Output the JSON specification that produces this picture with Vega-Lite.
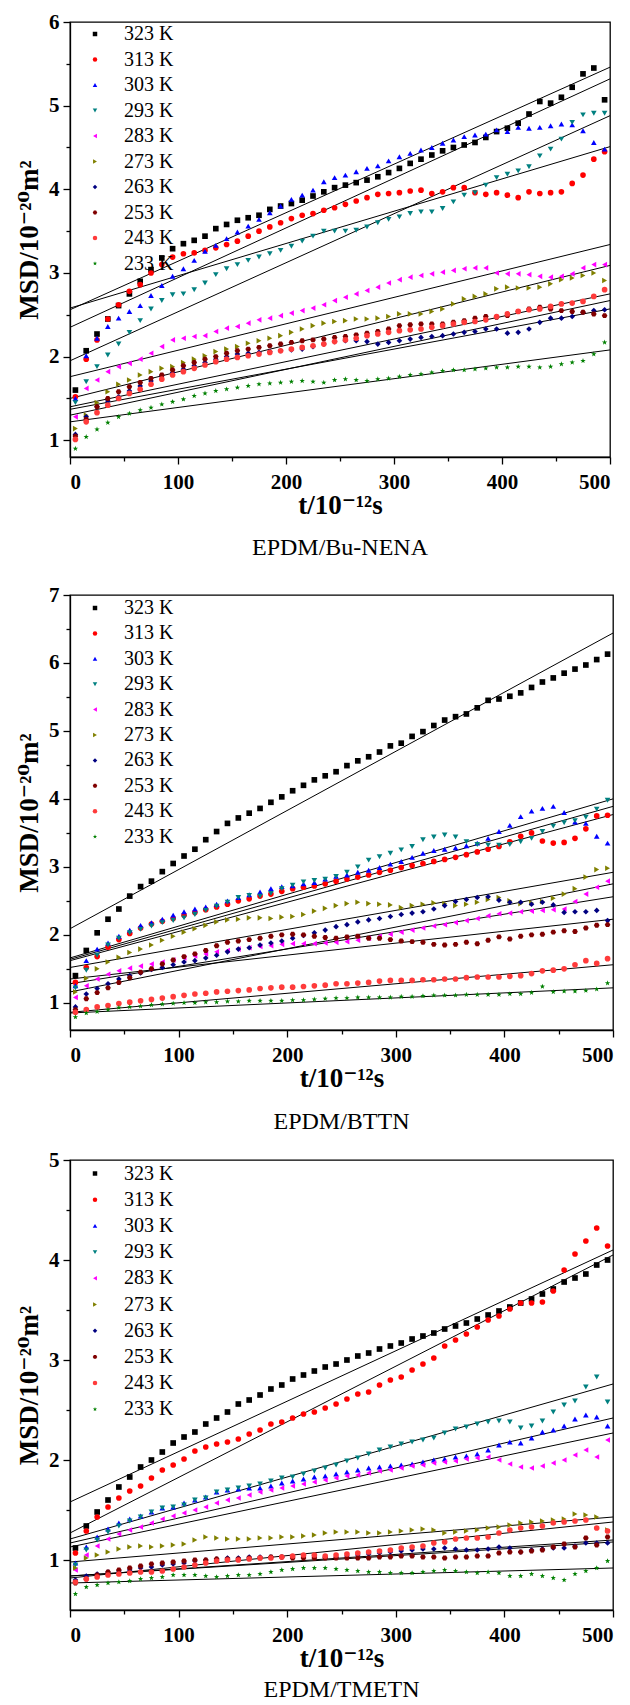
{
"$schema":"https://vega.github.io/schema/vega-lite/v6.json",
"padding":{"left":14,"top":10,"right":5,"bottom":0},
"background":"white",
"config":{
"font":"Liberation Serif",
"view":{"stroke":"black","strokeWidth":1.3},
"axis":{"grid":false,"domainColor":"black","domainWidth":1.3,"tickColor":"black","tickWidth":1.3,"labelColor":"black","titleColor":"black","labelFont":"Liberation Serif","labelFontSize":21,"labelFontWeight":"bold","titleFont":"Liberation Serif, DejaVu Serif","titleFontSize":27,"titleFontWeight":"bold"},
"title":{"font":"Liberation Serif","fontSize":24,"fontWeight":"normal","color":"black"}
},
"datasets":{
"f":[
{"p":1,"k":323,"t":0,"v":2.56},{"p":1,"k":323,"t":500,"v":5.46},
{"p":1,"k":313,"t":0,"v":2.58},{"p":1,"k":313,"t":500,"v":4.51},
{"p":1,"k":303,"t":0,"v":2.35},{"p":1,"k":303,"t":500,"v":5.32},
{"p":1,"k":293,"t":0,"v":1.95},{"p":1,"k":293,"t":500,"v":4.88},
{"p":1,"k":283,"t":0,"v":1.76},{"p":1,"k":283,"t":500,"v":3.34},
{"p":1,"k":273,"t":0,"v":1.5},{"p":1,"k":273,"t":500,"v":3.09},
{"p":1,"k":263,"t":0,"v":1.37},{"p":1,"k":263,"t":500,"v":2.57},
{"p":1,"k":253,"t":0,"v":1.4},{"p":1,"k":253,"t":500,"v":2.75},
{"p":1,"k":243,"t":0,"v":1.3},{"p":1,"k":243,"t":500,"v":2.67},
{"p":1,"k":233,"t":0,"v":1.22},{"p":1,"k":233,"t":500,"v":2.08},
{"p":2,"k":323,"t":0,"v":2.09},{"p":2,"k":323,"t":500,"v":6.44},
{"p":2,"k":313,"t":0,"v":1.62},{"p":2,"k":313,"t":500,"v":3.77},
{"p":2,"k":303,"t":0,"v":1.64},{"p":2,"k":303,"t":500,"v":3.89},
{"p":2,"k":293,"t":0,"v":1.66},{"p":2,"k":293,"t":500,"v":4.0},
{"p":2,"k":283,"t":0,"v":1.28},{"p":2,"k":283,"t":500,"v":2.56},
{"p":2,"k":273,"t":0,"v":1.52},{"p":2,"k":273,"t":500,"v":2.92},
{"p":2,"k":263,"t":0,"v":1.16},{"p":2,"k":263,"t":500,"v":2.75},
{"p":2,"k":253,"t":0,"v":1.35},{"p":2,"k":253,"t":500,"v":2.23},
{"p":2,"k":243,"t":0,"v":0.86},{"p":2,"k":243,"t":500,"v":1.56},
{"p":2,"k":233,"t":0,"v":0.85},{"p":2,"k":233,"t":500,"v":1.22},
{"p":3,"k":323,"t":0,"v":1.58},{"p":3,"k":323,"t":500,"v":4.1},
{"p":3,"k":313,"t":0,"v":1.27},{"p":3,"k":313,"t":500,"v":4.05},
{"p":3,"k":303,"t":0,"v":1.17},{"p":3,"k":303,"t":500,"v":2.42},
{"p":3,"k":293,"t":0,"v":1.21},{"p":3,"k":293,"t":500,"v":2.76},
{"p":3,"k":283,"t":0,"v":1.13},{"p":3,"k":283,"t":500,"v":2.27},
{"p":3,"k":273,"t":0,"v":0.98},{"p":3,"k":273,"t":500,"v":1.43},
{"p":3,"k":263,"t":0,"v":0.84},{"p":3,"k":263,"t":500,"v":1.2},
{"p":3,"k":253,"t":0,"v":0.84},{"p":3,"k":253,"t":500,"v":1.18},
{"p":3,"k":243,"t":0,"v":0.82},{"p":3,"k":243,"t":500,"v":1.38},
{"p":3,"k":233,"t":0,"v":0.77},{"p":3,"k":233,"t":500,"v":0.92}
],
"p1":[
{"k":323,"t":5,"v":1.6},{"k":323,"t":15,"v":2.07},{"k":323,"t":25,"v":2.27},{"k":323,"t":35,"v":2.45},{"k":323,"t":45,"v":2.61},{"k":323,"t":55,"v":2.75},{"k":323,"t":65,"v":2.9},{"k":323,"t":75,"v":3.04},{"k":323,"t":85,"v":3.18},{"k":323,"t":95,"v":3.29},{"k":323,"t":105,"v":3.35},{"k":323,"t":115,"v":3.39},{"k":323,"t":125,"v":3.44},{"k":323,"t":135,"v":3.53},{"k":323,"t":145,"v":3.58},{"k":323,"t":155,"v":3.63},{"k":323,"t":165,"v":3.66},{"k":323,"t":175,"v":3.69},{"k":323,"t":185,"v":3.76},{"k":323,"t":195,"v":3.8},{"k":323,"t":205,"v":3.83},{"k":323,"t":215,"v":3.87},{"k":323,"t":225,"v":3.92},{"k":323,"t":235,"v":3.97},{"k":323,"t":245,"v":4.02},{"k":323,"t":255,"v":4.05},{"k":323,"t":265,"v":4.08},{"k":323,"t":275,"v":4.11},{"k":323,"t":285,"v":4.15},{"k":323,"t":295,"v":4.2},{"k":323,"t":305,"v":4.25},{"k":323,"t":315,"v":4.31},{"k":323,"t":325,"v":4.36},{"k":323,"t":335,"v":4.41},{"k":323,"t":345,"v":4.46},{"k":323,"t":355,"v":4.5},{"k":323,"t":365,"v":4.53},{"k":323,"t":375,"v":4.56},{"k":323,"t":385,"v":4.62},{"k":323,"t":395,"v":4.69},{"k":323,"t":405,"v":4.73},{"k":323,"t":415,"v":4.79},{"k":323,"t":425,"v":4.9},{"k":323,"t":435,"v":5.05},{"k":323,"t":445,"v":5.03},{"k":323,"t":455,"v":5.1},{"k":323,"t":465,"v":5.22},{"k":323,"t":475,"v":5.38},{"k":323,"t":485,"v":5.45},{"k":323,"t":495,"v":5.07},
{"k":313,"t":5,"v":1.52},{"k":313,"t":15,"v":1.97},{"k":313,"t":25,"v":2.2},{"k":313,"t":35,"v":2.45},{"k":313,"t":45,"v":2.62},{"k":313,"t":55,"v":2.78},{"k":313,"t":65,"v":2.86},{"k":313,"t":75,"v":3.0},{"k":313,"t":85,"v":3.1},{"k":313,"t":95,"v":3.19},{"k":313,"t":105,"v":3.23},{"k":313,"t":115,"v":3.24},{"k":313,"t":125,"v":3.27},{"k":313,"t":135,"v":3.3},{"k":313,"t":145,"v":3.34},{"k":313,"t":155,"v":3.38},{"k":313,"t":165,"v":3.44},{"k":313,"t":175,"v":3.5},{"k":313,"t":185,"v":3.55},{"k":313,"t":195,"v":3.6},{"k":313,"t":205,"v":3.65},{"k":313,"t":215,"v":3.69},{"k":313,"t":225,"v":3.71},{"k":313,"t":235,"v":3.75},{"k":313,"t":245,"v":3.78},{"k":313,"t":255,"v":3.82},{"k":313,"t":265,"v":3.86},{"k":313,"t":275,"v":3.9},{"k":313,"t":285,"v":3.94},{"k":313,"t":295,"v":3.95},{"k":313,"t":305,"v":3.96},{"k":313,"t":315,"v":3.98},{"k":313,"t":325,"v":3.99},{"k":313,"t":335,"v":3.95},{"k":313,"t":345,"v":3.97},{"k":313,"t":355,"v":4.02},{"k":313,"t":365,"v":4.02},{"k":313,"t":375,"v":3.96},{"k":313,"t":385,"v":3.94},{"k":313,"t":395,"v":3.96},{"k":313,"t":405,"v":3.93},{"k":313,"t":415,"v":3.9},{"k":313,"t":425,"v":3.97},{"k":313,"t":435,"v":3.95},{"k":313,"t":445,"v":3.96},{"k":313,"t":455,"v":3.97},{"k":313,"t":465,"v":4.07},{"k":313,"t":475,"v":4.17},{"k":313,"t":485,"v":4.36},{"k":313,"t":495,"v":4.45},
{"k":303,"t":5,"v":1.5},{"k":303,"t":15,"v":2.01},{"k":303,"t":25,"v":2.22},{"k":303,"t":35,"v":2.36},{"k":303,"t":45,"v":2.46},{"k":303,"t":55,"v":2.54},{"k":303,"t":65,"v":2.61},{"k":303,"t":75,"v":2.73},{"k":303,"t":85,"v":2.85},{"k":303,"t":95,"v":2.96},{"k":303,"t":105,"v":3.05},{"k":303,"t":115,"v":3.15},{"k":303,"t":125,"v":3.26},{"k":303,"t":135,"v":3.33},{"k":303,"t":145,"v":3.41},{"k":303,"t":155,"v":3.49},{"k":303,"t":165,"v":3.56},{"k":303,"t":175,"v":3.64},{"k":303,"t":185,"v":3.72},{"k":303,"t":195,"v":3.8},{"k":303,"t":205,"v":3.88},{"k":303,"t":215,"v":3.93},{"k":303,"t":225,"v":3.99},{"k":303,"t":235,"v":4.09},{"k":303,"t":245,"v":4.14},{"k":303,"t":255,"v":4.17},{"k":303,"t":265,"v":4.21},{"k":303,"t":275,"v":4.25},{"k":303,"t":285,"v":4.28},{"k":303,"t":295,"v":4.34},{"k":303,"t":305,"v":4.39},{"k":303,"t":315,"v":4.43},{"k":303,"t":325,"v":4.47},{"k":303,"t":335,"v":4.5},{"k":303,"t":345,"v":4.55},{"k":303,"t":355,"v":4.59},{"k":303,"t":365,"v":4.63},{"k":303,"t":375,"v":4.65},{"k":303,"t":385,"v":4.66},{"k":303,"t":395,"v":4.71},{"k":303,"t":405,"v":4.69},{"k":303,"t":415,"v":4.74},{"k":303,"t":425,"v":4.73},{"k":303,"t":435,"v":4.74},{"k":303,"t":445,"v":4.76},{"k":303,"t":455,"v":4.78},{"k":303,"t":465,"v":4.77},{"k":303,"t":475,"v":4.7},{"k":303,"t":485,"v":4.56},{"k":303,"t":495,"v":4.48},
{"k":293,"t":5,"v":1.45},{"k":293,"t":15,"v":1.7},{"k":293,"t":25,"v":1.88},{"k":293,"t":35,"v":2.02},{"k":293,"t":45,"v":2.15},{"k":293,"t":55,"v":2.29},{"k":293,"t":65,"v":2.43},{"k":293,"t":75,"v":2.57},{"k":293,"t":85,"v":2.67},{"k":293,"t":95,"v":2.74},{"k":293,"t":105,"v":2.75},{"k":293,"t":115,"v":2.8},{"k":293,"t":125,"v":2.88},{"k":293,"t":135,"v":2.98},{"k":293,"t":145,"v":3.05},{"k":293,"t":155,"v":3.1},{"k":293,"t":165,"v":3.15},{"k":293,"t":175,"v":3.19},{"k":293,"t":185,"v":3.23},{"k":293,"t":195,"v":3.27},{"k":293,"t":205,"v":3.32},{"k":293,"t":215,"v":3.38},{"k":293,"t":225,"v":3.44},{"k":293,"t":235,"v":3.5},{"k":293,"t":245,"v":3.5},{"k":293,"t":255,"v":3.5},{"k":293,"t":265,"v":3.51},{"k":293,"t":275,"v":3.55},{"k":293,"t":285,"v":3.6},{"k":293,"t":295,"v":3.64},{"k":293,"t":305,"v":3.67},{"k":293,"t":315,"v":3.71},{"k":293,"t":325,"v":3.73},{"k":293,"t":335,"v":3.73},{"k":293,"t":345,"v":3.77},{"k":293,"t":355,"v":3.85},{"k":293,"t":365,"v":3.93},{"k":293,"t":375,"v":3.96},{"k":293,"t":385,"v":4.05},{"k":293,"t":395,"v":4.14},{"k":293,"t":405,"v":4.18},{"k":293,"t":415,"v":4.22},{"k":293,"t":425,"v":4.27},{"k":293,"t":435,"v":4.4},{"k":293,"t":445,"v":4.48},{"k":293,"t":455,"v":4.6},{"k":293,"t":465,"v":4.8},{"k":293,"t":475,"v":4.89},{"k":293,"t":485,"v":4.91},{"k":293,"t":495,"v":4.91},
{"k":283,"t":5,"v":1.28},{"k":283,"t":15,"v":1.62},{"k":283,"t":25,"v":1.72},{"k":283,"t":35,"v":1.82},{"k":283,"t":45,"v":1.88},{"k":283,"t":55,"v":1.92},{"k":283,"t":65,"v":1.97},{"k":283,"t":75,"v":2.04},{"k":283,"t":85,"v":2.12},{"k":283,"t":95,"v":2.2},{"k":283,"t":105,"v":2.22},{"k":283,"t":115,"v":2.24},{"k":283,"t":125,"v":2.25},{"k":283,"t":135,"v":2.3},{"k":283,"t":145,"v":2.34},{"k":283,"t":155,"v":2.36},{"k":283,"t":165,"v":2.4},{"k":283,"t":175,"v":2.44},{"k":283,"t":185,"v":2.46},{"k":283,"t":195,"v":2.49},{"k":283,"t":205,"v":2.52},{"k":283,"t":215,"v":2.55},{"k":283,"t":225,"v":2.58},{"k":283,"t":235,"v":2.62},{"k":283,"t":245,"v":2.67},{"k":283,"t":255,"v":2.71},{"k":283,"t":265,"v":2.75},{"k":283,"t":275,"v":2.79},{"k":283,"t":285,"v":2.83},{"k":283,"t":295,"v":2.88},{"k":283,"t":305,"v":2.92},{"k":283,"t":315,"v":2.95},{"k":283,"t":325,"v":2.97},{"k":283,"t":335,"v":2.99},{"k":283,"t":345,"v":3.01},{"k":283,"t":355,"v":3.03},{"k":283,"t":365,"v":3.05},{"k":283,"t":375,"v":3.06},{"k":283,"t":385,"v":3.06},{"k":283,"t":395,"v":3.0},{"k":283,"t":405,"v":2.99},{"k":283,"t":415,"v":2.99},{"k":283,"t":425,"v":2.98},{"k":283,"t":435,"v":2.96},{"k":283,"t":445,"v":2.95},{"k":283,"t":455,"v":2.96},{"k":283,"t":465,"v":2.99},{"k":283,"t":475,"v":3.06},{"k":283,"t":485,"v":3.1},{"k":283,"t":495,"v":3.1},
{"k":273,"t":5,"v":1.14},{"k":273,"t":15,"v":1.3},{"k":273,"t":25,"v":1.45},{"k":273,"t":35,"v":1.58},{"k":273,"t":45,"v":1.67},{"k":273,"t":55,"v":1.72},{"k":273,"t":65,"v":1.78},{"k":273,"t":75,"v":1.82},{"k":273,"t":85,"v":1.86},{"k":273,"t":95,"v":1.88},{"k":273,"t":105,"v":1.93},{"k":273,"t":115,"v":1.97},{"k":273,"t":125,"v":2.01},{"k":273,"t":135,"v":2.06},{"k":273,"t":145,"v":2.09},{"k":273,"t":155,"v":2.12},{"k":273,"t":165,"v":2.16},{"k":273,"t":175,"v":2.19},{"k":273,"t":185,"v":2.22},{"k":273,"t":195,"v":2.25},{"k":273,"t":205,"v":2.29},{"k":273,"t":215,"v":2.33},{"k":273,"t":225,"v":2.37},{"k":273,"t":235,"v":2.4},{"k":273,"t":245,"v":2.42},{"k":273,"t":255,"v":2.43},{"k":273,"t":265,"v":2.45},{"k":273,"t":275,"v":2.45},{"k":273,"t":285,"v":2.46},{"k":273,"t":295,"v":2.48},{"k":273,"t":305,"v":2.51},{"k":273,"t":315,"v":2.51},{"k":273,"t":325,"v":2.51},{"k":273,"t":335,"v":2.54},{"k":273,"t":345,"v":2.57},{"k":273,"t":355,"v":2.63},{"k":273,"t":365,"v":2.69},{"k":273,"t":375,"v":2.72},{"k":273,"t":385,"v":2.75},{"k":273,"t":395,"v":2.81},{"k":273,"t":405,"v":2.83},{"k":273,"t":415,"v":2.82},{"k":273,"t":425,"v":2.82},{"k":273,"t":435,"v":2.83},{"k":273,"t":445,"v":2.87},{"k":273,"t":455,"v":2.92},{"k":273,"t":465,"v":2.94},{"k":273,"t":475,"v":2.97},{"k":273,"t":485,"v":3.0},{"k":273,"t":495,"v":2.91},
{"k":263,"t":5,"v":1.07},{"k":263,"t":15,"v":1.28},{"k":263,"t":25,"v":1.4},{"k":263,"t":35,"v":1.47},{"k":263,"t":45,"v":1.52},{"k":263,"t":55,"v":1.59},{"k":263,"t":65,"v":1.65},{"k":263,"t":75,"v":1.71},{"k":263,"t":85,"v":1.77},{"k":263,"t":95,"v":1.81},{"k":263,"t":105,"v":1.85},{"k":263,"t":115,"v":1.89},{"k":263,"t":125,"v":1.93},{"k":263,"t":135,"v":1.97},{"k":263,"t":145,"v":2.0},{"k":263,"t":155,"v":2.03},{"k":263,"t":165,"v":2.04},{"k":263,"t":175,"v":2.05},{"k":263,"t":185,"v":2.06},{"k":263,"t":195,"v":2.07},{"k":263,"t":205,"v":2.08},{"k":263,"t":215,"v":2.09},{"k":263,"t":225,"v":2.12},{"k":263,"t":235,"v":2.15},{"k":263,"t":245,"v":2.18},{"k":263,"t":255,"v":2.19},{"k":263,"t":265,"v":2.19},{"k":263,"t":275,"v":2.18},{"k":263,"t":285,"v":2.15},{"k":263,"t":295,"v":2.17},{"k":263,"t":305,"v":2.19},{"k":263,"t":315,"v":2.21},{"k":263,"t":325,"v":2.23},{"k":263,"t":335,"v":2.24},{"k":263,"t":345,"v":2.25},{"k":263,"t":355,"v":2.27},{"k":263,"t":365,"v":2.29},{"k":263,"t":375,"v":2.3},{"k":263,"t":385,"v":2.33},{"k":263,"t":395,"v":2.33},{"k":263,"t":405,"v":2.28},{"k":263,"t":415,"v":2.29},{"k":263,"t":425,"v":2.33},{"k":263,"t":435,"v":2.41},{"k":263,"t":445,"v":2.46},{"k":263,"t":455,"v":2.46},{"k":263,"t":465,"v":2.48},{"k":263,"t":475,"v":2.53},{"k":263,"t":485,"v":2.55},{"k":263,"t":495,"v":2.56},
{"k":253,"t":5,"v":1.05},{"k":253,"t":15,"v":1.25},{"k":253,"t":25,"v":1.4},{"k":253,"t":35,"v":1.5},{"k":253,"t":45,"v":1.58},{"k":253,"t":55,"v":1.64},{"k":253,"t":65,"v":1.69},{"k":253,"t":75,"v":1.74},{"k":253,"t":85,"v":1.78},{"k":253,"t":95,"v":1.84},{"k":253,"t":105,"v":1.89},{"k":253,"t":115,"v":1.93},{"k":253,"t":125,"v":1.97},{"k":253,"t":135,"v":2.0},{"k":253,"t":145,"v":2.04},{"k":253,"t":155,"v":2.07},{"k":253,"t":165,"v":2.09},{"k":253,"t":175,"v":2.11},{"k":253,"t":185,"v":2.13},{"k":253,"t":195,"v":2.15},{"k":253,"t":205,"v":2.17},{"k":253,"t":215,"v":2.19},{"k":253,"t":225,"v":2.2},{"k":253,"t":235,"v":2.21},{"k":253,"t":245,"v":2.23},{"k":253,"t":255,"v":2.24},{"k":253,"t":265,"v":2.26},{"k":253,"t":275,"v":2.28},{"k":253,"t":285,"v":2.3},{"k":253,"t":295,"v":2.33},{"k":253,"t":305,"v":2.37},{"k":253,"t":315,"v":2.38},{"k":253,"t":325,"v":2.39},{"k":253,"t":335,"v":2.39},{"k":253,"t":345,"v":2.39},{"k":253,"t":355,"v":2.41},{"k":253,"t":365,"v":2.43},{"k":253,"t":375,"v":2.46},{"k":253,"t":385,"v":2.48},{"k":253,"t":395,"v":2.47},{"k":253,"t":405,"v":2.49},{"k":253,"t":415,"v":2.54},{"k":253,"t":425,"v":2.57},{"k":253,"t":435,"v":2.59},{"k":253,"t":445,"v":2.57},{"k":253,"t":455,"v":2.55},{"k":253,"t":465,"v":2.54},{"k":253,"t":475,"v":2.53},{"k":253,"t":485,"v":2.51},{"k":253,"t":495,"v":2.49},
{"k":243,"t":5,"v":1.01},{"k":243,"t":15,"v":1.22},{"k":243,"t":25,"v":1.33},{"k":243,"t":35,"v":1.42},{"k":243,"t":45,"v":1.5},{"k":243,"t":55,"v":1.56},{"k":243,"t":65,"v":1.61},{"k":243,"t":75,"v":1.67},{"k":243,"t":85,"v":1.73},{"k":243,"t":95,"v":1.78},{"k":243,"t":105,"v":1.82},{"k":243,"t":115,"v":1.86},{"k":243,"t":125,"v":1.9},{"k":243,"t":135,"v":1.94},{"k":243,"t":145,"v":1.97},{"k":243,"t":155,"v":1.99},{"k":243,"t":165,"v":2.01},{"k":243,"t":175,"v":2.03},{"k":243,"t":185,"v":2.05},{"k":243,"t":195,"v":2.07},{"k":243,"t":205,"v":2.09},{"k":243,"t":215,"v":2.11},{"k":243,"t":225,"v":2.13},{"k":243,"t":235,"v":2.15},{"k":243,"t":245,"v":2.18},{"k":243,"t":255,"v":2.2},{"k":243,"t":265,"v":2.22},{"k":243,"t":275,"v":2.25},{"k":243,"t":285,"v":2.27},{"k":243,"t":295,"v":2.29},{"k":243,"t":305,"v":2.31},{"k":243,"t":315,"v":2.32},{"k":243,"t":325,"v":2.33},{"k":243,"t":335,"v":2.35},{"k":243,"t":345,"v":2.37},{"k":243,"t":355,"v":2.39},{"k":243,"t":365,"v":2.41},{"k":243,"t":375,"v":2.42},{"k":243,"t":385,"v":2.44},{"k":243,"t":395,"v":2.48},{"k":243,"t":405,"v":2.51},{"k":243,"t":415,"v":2.54},{"k":243,"t":425,"v":2.56},{"k":243,"t":435,"v":2.57},{"k":243,"t":445,"v":2.6},{"k":243,"t":455,"v":2.63},{"k":243,"t":465,"v":2.64},{"k":243,"t":475,"v":2.66},{"k":243,"t":485,"v":2.72},{"k":243,"t":495,"v":2.8},
{"k":233,"t":5,"v":0.9},{"k":233,"t":15,"v":1.04},{"k":233,"t":25,"v":1.13},{"k":233,"t":35,"v":1.21},{"k":233,"t":45,"v":1.28},{"k":233,"t":55,"v":1.32},{"k":233,"t":65,"v":1.36},{"k":233,"t":75,"v":1.39},{"k":233,"t":85,"v":1.43},{"k":233,"t":95,"v":1.46},{"k":233,"t":105,"v":1.49},{"k":233,"t":115,"v":1.53},{"k":233,"t":125,"v":1.56},{"k":233,"t":135,"v":1.59},{"k":233,"t":145,"v":1.61},{"k":233,"t":155,"v":1.63},{"k":233,"t":165,"v":1.65},{"k":233,"t":175,"v":1.67},{"k":233,"t":185,"v":1.68},{"k":233,"t":195,"v":1.69},{"k":233,"t":205,"v":1.7},{"k":233,"t":215,"v":1.71},{"k":233,"t":225,"v":1.7},{"k":233,"t":235,"v":1.69},{"k":233,"t":245,"v":1.72},{"k":233,"t":255,"v":1.73},{"k":233,"t":265,"v":1.72},{"k":233,"t":275,"v":1.71},{"k":233,"t":285,"v":1.73},{"k":233,"t":295,"v":1.74},{"k":233,"t":305,"v":1.76},{"k":233,"t":315,"v":1.78},{"k":233,"t":325,"v":1.79},{"k":233,"t":335,"v":1.81},{"k":233,"t":345,"v":1.83},{"k":233,"t":355,"v":1.84},{"k":233,"t":365,"v":1.84},{"k":233,"t":375,"v":1.85},{"k":233,"t":385,"v":1.86},{"k":233,"t":395,"v":1.87},{"k":233,"t":405,"v":1.87},{"k":233,"t":415,"v":1.88},{"k":233,"t":425,"v":1.88},{"k":233,"t":435,"v":1.87},{"k":233,"t":445,"v":1.88},{"k":233,"t":455,"v":1.91},{"k":233,"t":465,"v":1.93},{"k":233,"t":475,"v":1.95},{"k":233,"t":485,"v":2.03},{"k":233,"t":495,"v":2.17}
],
"p2":[
{"k":323,"t":5,"v":1.4},{"k":323,"t":15,"v":1.77},{"k":323,"t":25,"v":2.03},{"k":323,"t":35,"v":2.23},{"k":323,"t":45,"v":2.38},{"k":323,"t":55,"v":2.57},{"k":323,"t":65,"v":2.71},{"k":323,"t":75,"v":2.79},{"k":323,"t":85,"v":2.93},{"k":323,"t":95,"v":3.05},{"k":323,"t":105,"v":3.16},{"k":323,"t":115,"v":3.26},{"k":323,"t":125,"v":3.4},{"k":323,"t":135,"v":3.52},{"k":323,"t":145,"v":3.64},{"k":323,"t":155,"v":3.72},{"k":323,"t":165,"v":3.79},{"k":323,"t":175,"v":3.86},{"k":323,"t":185,"v":3.95},{"k":323,"t":195,"v":4.03},{"k":323,"t":205,"v":4.12},{"k":323,"t":215,"v":4.2},{"k":323,"t":225,"v":4.28},{"k":323,"t":235,"v":4.34},{"k":323,"t":245,"v":4.4},{"k":323,"t":255,"v":4.49},{"k":323,"t":265,"v":4.56},{"k":323,"t":275,"v":4.62},{"k":323,"t":285,"v":4.69},{"k":323,"t":295,"v":4.78},{"k":323,"t":305,"v":4.82},{"k":323,"t":315,"v":4.92},{"k":323,"t":325,"v":4.99},{"k":323,"t":335,"v":5.08},{"k":323,"t":345,"v":5.16},{"k":323,"t":355,"v":5.21},{"k":323,"t":365,"v":5.25},{"k":323,"t":375,"v":5.34},{"k":323,"t":385,"v":5.45},{"k":323,"t":395,"v":5.47},{"k":323,"t":405,"v":5.51},{"k":323,"t":415,"v":5.56},{"k":323,"t":425,"v":5.64},{"k":323,"t":435,"v":5.72},{"k":323,"t":445,"v":5.78},{"k":323,"t":455,"v":5.85},{"k":323,"t":465,"v":5.91},{"k":323,"t":475,"v":5.97},{"k":323,"t":485,"v":6.05},{"k":323,"t":495,"v":6.13},
{"k":313,"t":5,"v":1.3},{"k":313,"t":15,"v":1.52},{"k":313,"t":25,"v":1.68},{"k":313,"t":35,"v":1.82},{"k":313,"t":45,"v":1.93},{"k":313,"t":55,"v":2.02},{"k":313,"t":65,"v":2.1},{"k":313,"t":75,"v":2.16},{"k":313,"t":85,"v":2.2},{"k":313,"t":95,"v":2.24},{"k":313,"t":105,"v":2.29},{"k":313,"t":115,"v":2.33},{"k":313,"t":125,"v":2.37},{"k":313,"t":135,"v":2.41},{"k":313,"t":145,"v":2.45},{"k":313,"t":155,"v":2.5},{"k":313,"t":165,"v":2.53},{"k":313,"t":175,"v":2.57},{"k":313,"t":185,"v":2.6},{"k":313,"t":195,"v":2.64},{"k":313,"t":205,"v":2.68},{"k":313,"t":215,"v":2.7},{"k":313,"t":225,"v":2.72},{"k":313,"t":235,"v":2.75},{"k":313,"t":245,"v":2.79},{"k":313,"t":255,"v":2.82},{"k":313,"t":265,"v":2.85},{"k":313,"t":275,"v":2.88},{"k":313,"t":285,"v":2.92},{"k":313,"t":295,"v":2.95},{"k":313,"t":305,"v":2.99},{"k":313,"t":315,"v":3.02},{"k":313,"t":325,"v":3.05},{"k":313,"t":335,"v":3.08},{"k":313,"t":345,"v":3.11},{"k":313,"t":355,"v":3.14},{"k":313,"t":365,"v":3.18},{"k":313,"t":375,"v":3.22},{"k":313,"t":385,"v":3.26},{"k":313,"t":395,"v":3.3},{"k":313,"t":405,"v":3.37},{"k":313,"t":415,"v":3.45},{"k":313,"t":425,"v":3.5},{"k":313,"t":435,"v":3.38},{"k":313,"t":445,"v":3.35},{"k":313,"t":455,"v":3.36},{"k":313,"t":465,"v":3.42},{"k":313,"t":475,"v":3.56},{"k":313,"t":485,"v":3.75},{"k":313,"t":495,"v":3.76},
{"k":303,"t":5,"v":1.25},{"k":303,"t":15,"v":1.62},{"k":303,"t":25,"v":1.79},{"k":303,"t":35,"v":1.88},{"k":303,"t":45,"v":1.98},{"k":303,"t":55,"v":2.07},{"k":303,"t":65,"v":2.14},{"k":303,"t":75,"v":2.18},{"k":303,"t":85,"v":2.23},{"k":303,"t":95,"v":2.29},{"k":303,"t":105,"v":2.34},{"k":303,"t":115,"v":2.38},{"k":303,"t":125,"v":2.41},{"k":303,"t":135,"v":2.45},{"k":303,"t":145,"v":2.5},{"k":303,"t":155,"v":2.55},{"k":303,"t":165,"v":2.59},{"k":303,"t":175,"v":2.63},{"k":303,"t":185,"v":2.68},{"k":303,"t":195,"v":2.71},{"k":303,"t":205,"v":2.72},{"k":303,"t":215,"v":2.75},{"k":303,"t":225,"v":2.77},{"k":303,"t":235,"v":2.82},{"k":303,"t":245,"v":2.86},{"k":303,"t":255,"v":2.88},{"k":303,"t":265,"v":2.92},{"k":303,"t":275,"v":2.95},{"k":303,"t":285,"v":2.99},{"k":303,"t":295,"v":3.04},{"k":303,"t":305,"v":3.08},{"k":303,"t":315,"v":3.14},{"k":303,"t":325,"v":3.2},{"k":303,"t":335,"v":3.24},{"k":303,"t":345,"v":3.26},{"k":303,"t":355,"v":3.28},{"k":303,"t":365,"v":3.31},{"k":303,"t":375,"v":3.35},{"k":303,"t":385,"v":3.42},{"k":303,"t":395,"v":3.52},{"k":303,"t":405,"v":3.61},{"k":303,"t":415,"v":3.74},{"k":303,"t":425,"v":3.82},{"k":303,"t":435,"v":3.86},{"k":303,"t":445,"v":3.89},{"k":303,"t":455,"v":3.8},{"k":303,"t":465,"v":3.66},{"k":303,"t":475,"v":3.64},{"k":303,"t":485,"v":3.45},{"k":303,"t":495,"v":3.35},
{"k":293,"t":5,"v":1.22},{"k":293,"t":15,"v":1.48},{"k":293,"t":25,"v":1.7},{"k":293,"t":35,"v":1.85},{"k":293,"t":45,"v":1.95},{"k":293,"t":55,"v":2.03},{"k":293,"t":65,"v":2.08},{"k":293,"t":75,"v":2.13},{"k":293,"t":85,"v":2.18},{"k":293,"t":95,"v":2.21},{"k":293,"t":105,"v":2.25},{"k":293,"t":115,"v":2.3},{"k":293,"t":125,"v":2.36},{"k":293,"t":135,"v":2.42},{"k":293,"t":145,"v":2.48},{"k":293,"t":155,"v":2.55},{"k":293,"t":165,"v":2.58},{"k":293,"t":175,"v":2.57},{"k":293,"t":185,"v":2.61},{"k":293,"t":195,"v":2.68},{"k":293,"t":205,"v":2.73},{"k":293,"t":215,"v":2.78},{"k":293,"t":225,"v":2.8},{"k":293,"t":235,"v":2.82},{"k":293,"t":245,"v":2.86},{"k":293,"t":255,"v":2.92},{"k":293,"t":265,"v":3.0},{"k":293,"t":275,"v":3.1},{"k":293,"t":285,"v":3.15},{"k":293,"t":295,"v":3.2},{"k":293,"t":305,"v":3.25},{"k":293,"t":315,"v":3.3},{"k":293,"t":325,"v":3.4},{"k":293,"t":335,"v":3.44},{"k":293,"t":345,"v":3.47},{"k":293,"t":355,"v":3.44},{"k":293,"t":365,"v":3.37},{"k":293,"t":375,"v":3.33},{"k":293,"t":385,"v":3.32},{"k":293,"t":395,"v":3.32},{"k":293,"t":405,"v":3.33},{"k":293,"t":415,"v":3.37},{"k":293,"t":425,"v":3.42},{"k":293,"t":435,"v":3.52},{"k":293,"t":445,"v":3.6},{"k":293,"t":455,"v":3.65},{"k":293,"t":465,"v":3.68},{"k":293,"t":475,"v":3.73},{"k":293,"t":485,"v":3.85},{"k":293,"t":495,"v":3.98},
{"k":283,"t":5,"v":1.08},{"k":283,"t":15,"v":1.25},{"k":283,"t":25,"v":1.35},{"k":283,"t":35,"v":1.42},{"k":283,"t":45,"v":1.47},{"k":283,"t":55,"v":1.51},{"k":283,"t":65,"v":1.54},{"k":283,"t":75,"v":1.57},{"k":283,"t":85,"v":1.6},{"k":283,"t":95,"v":1.63},{"k":283,"t":105,"v":1.66},{"k":283,"t":115,"v":1.69},{"k":283,"t":125,"v":1.72},{"k":283,"t":135,"v":1.75},{"k":283,"t":145,"v":1.77},{"k":283,"t":155,"v":1.79},{"k":283,"t":165,"v":1.81},{"k":283,"t":175,"v":1.83},{"k":283,"t":185,"v":1.84},{"k":283,"t":195,"v":1.86},{"k":283,"t":205,"v":1.87},{"k":283,"t":215,"v":1.87},{"k":283,"t":225,"v":1.87},{"k":283,"t":235,"v":1.88},{"k":283,"t":245,"v":1.89},{"k":283,"t":255,"v":1.9},{"k":283,"t":265,"v":1.92},{"k":283,"t":275,"v":1.95},{"k":283,"t":285,"v":1.98},{"k":283,"t":295,"v":2.01},{"k":283,"t":305,"v":2.04},{"k":283,"t":315,"v":2.07},{"k":283,"t":325,"v":2.1},{"k":283,"t":335,"v":2.13},{"k":283,"t":345,"v":2.15},{"k":283,"t":355,"v":2.18},{"k":283,"t":365,"v":2.21},{"k":283,"t":375,"v":2.24},{"k":283,"t":385,"v":2.28},{"k":283,"t":395,"v":2.31},{"k":283,"t":405,"v":2.32},{"k":283,"t":415,"v":2.34},{"k":283,"t":425,"v":2.35},{"k":283,"t":435,"v":2.36},{"k":283,"t":445,"v":2.37},{"k":283,"t":455,"v":2.38},{"k":283,"t":465,"v":2.49},{"k":283,"t":475,"v":2.6},{"k":283,"t":485,"v":2.7},{"k":283,"t":495,"v":2.79},
{"k":273,"t":5,"v":1.16},{"k":273,"t":15,"v":1.36},{"k":273,"t":25,"v":1.5},{"k":273,"t":35,"v":1.6},{"k":273,"t":45,"v":1.67},{"k":273,"t":55,"v":1.74},{"k":273,"t":65,"v":1.79},{"k":273,"t":75,"v":1.85},{"k":273,"t":85,"v":1.92},{"k":273,"t":95,"v":1.98},{"k":273,"t":105,"v":2.04},{"k":273,"t":115,"v":2.09},{"k":273,"t":125,"v":2.14},{"k":273,"t":135,"v":2.19},{"k":273,"t":145,"v":2.22},{"k":273,"t":155,"v":2.23},{"k":273,"t":165,"v":2.25},{"k":273,"t":175,"v":2.25},{"k":273,"t":185,"v":2.24},{"k":273,"t":195,"v":2.26},{"k":273,"t":205,"v":2.27},{"k":273,"t":215,"v":2.3},{"k":273,"t":225,"v":2.35},{"k":273,"t":235,"v":2.39},{"k":273,"t":245,"v":2.43},{"k":273,"t":255,"v":2.46},{"k":273,"t":265,"v":2.48},{"k":273,"t":275,"v":2.46},{"k":273,"t":285,"v":2.45},{"k":273,"t":295,"v":2.44},{"k":273,"t":305,"v":2.4},{"k":273,"t":315,"v":2.43},{"k":273,"t":325,"v":2.45},{"k":273,"t":335,"v":2.47},{"k":273,"t":345,"v":2.46},{"k":273,"t":355,"v":2.43},{"k":273,"t":365,"v":2.45},{"k":273,"t":375,"v":2.48},{"k":273,"t":385,"v":2.52},{"k":273,"t":395,"v":2.55},{"k":273,"t":405,"v":2.5},{"k":273,"t":415,"v":2.46},{"k":273,"t":425,"v":2.47},{"k":273,"t":435,"v":2.49},{"k":273,"t":445,"v":2.54},{"k":273,"t":455,"v":2.6},{"k":273,"t":465,"v":2.68},{"k":273,"t":475,"v":2.85},{"k":273,"t":485,"v":2.96},{"k":273,"t":495,"v":2.98},
{"k":263,"t":5,"v":0.94},{"k":263,"t":15,"v":1.13},{"k":263,"t":25,"v":1.21},{"k":263,"t":35,"v":1.28},{"k":263,"t":45,"v":1.35},{"k":263,"t":55,"v":1.4},{"k":263,"t":65,"v":1.44},{"k":263,"t":75,"v":1.49},{"k":263,"t":85,"v":1.52},{"k":263,"t":95,"v":1.56},{"k":263,"t":105,"v":1.6},{"k":263,"t":115,"v":1.62},{"k":263,"t":125,"v":1.66},{"k":263,"t":135,"v":1.7},{"k":263,"t":145,"v":1.75},{"k":263,"t":155,"v":1.79},{"k":263,"t":165,"v":1.81},{"k":263,"t":175,"v":1.85},{"k":263,"t":185,"v":1.88},{"k":263,"t":195,"v":1.91},{"k":263,"t":205,"v":1.95},{"k":263,"t":215,"v":1.99},{"k":263,"t":225,"v":2.03},{"k":263,"t":235,"v":2.07},{"k":263,"t":245,"v":2.12},{"k":263,"t":255,"v":2.15},{"k":263,"t":265,"v":2.19},{"k":263,"t":275,"v":2.22},{"k":263,"t":285,"v":2.24},{"k":263,"t":295,"v":2.27},{"k":263,"t":305,"v":2.3},{"k":263,"t":315,"v":2.32},{"k":263,"t":325,"v":2.34},{"k":263,"t":335,"v":2.38},{"k":263,"t":345,"v":2.43},{"k":263,"t":355,"v":2.49},{"k":263,"t":365,"v":2.52},{"k":263,"t":375,"v":2.55},{"k":263,"t":385,"v":2.56},{"k":263,"t":395,"v":2.51},{"k":263,"t":405,"v":2.48},{"k":263,"t":415,"v":2.48},{"k":263,"t":425,"v":2.45},{"k":263,"t":435,"v":2.48},{"k":263,"t":445,"v":2.44},{"k":263,"t":455,"v":2.33},{"k":263,"t":465,"v":2.34},{"k":263,"t":475,"v":2.34},{"k":263,"t":485,"v":2.36},{"k":263,"t":495,"v":2.21},
{"k":253,"t":5,"v":0.9},{"k":253,"t":15,"v":1.06},{"k":253,"t":25,"v":1.15},{"k":253,"t":35,"v":1.22},{"k":253,"t":45,"v":1.3},{"k":253,"t":55,"v":1.37},{"k":253,"t":65,"v":1.45},{"k":253,"t":75,"v":1.5},{"k":253,"t":85,"v":1.57},{"k":253,"t":95,"v":1.63},{"k":253,"t":105,"v":1.68},{"k":253,"t":115,"v":1.72},{"k":253,"t":125,"v":1.77},{"k":253,"t":135,"v":1.84},{"k":253,"t":145,"v":1.89},{"k":253,"t":155,"v":1.91},{"k":253,"t":165,"v":1.93},{"k":253,"t":175,"v":1.95},{"k":253,"t":185,"v":1.98},{"k":253,"t":195,"v":2.0},{"k":253,"t":205,"v":2.01},{"k":253,"t":215,"v":2.0},{"k":253,"t":225,"v":1.98},{"k":253,"t":235,"v":1.96},{"k":253,"t":245,"v":1.95},{"k":253,"t":255,"v":1.97},{"k":253,"t":265,"v":1.98},{"k":253,"t":275,"v":1.95},{"k":253,"t":285,"v":1.95},{"k":253,"t":295,"v":1.93},{"k":253,"t":305,"v":1.91},{"k":253,"t":315,"v":1.9},{"k":253,"t":325,"v":1.89},{"k":253,"t":335,"v":1.86},{"k":253,"t":345,"v":1.85},{"k":253,"t":355,"v":1.86},{"k":253,"t":365,"v":1.89},{"k":253,"t":375,"v":1.87},{"k":253,"t":385,"v":1.92},{"k":253,"t":395,"v":1.97},{"k":253,"t":405,"v":1.94},{"k":253,"t":415,"v":1.98},{"k":253,"t":425,"v":2.0},{"k":253,"t":435,"v":2.01},{"k":253,"t":445,"v":2.04},{"k":253,"t":455,"v":2.06},{"k":253,"t":465,"v":2.05},{"k":253,"t":475,"v":2.1},{"k":253,"t":485,"v":2.14},{"k":253,"t":495,"v":2.15},
{"k":243,"t":5,"v":0.86},{"k":243,"t":15,"v":0.9},{"k":243,"t":25,"v":0.94},{"k":243,"t":35,"v":0.96},{"k":243,"t":45,"v":0.99},{"k":243,"t":55,"v":1.01},{"k":243,"t":65,"v":1.03},{"k":243,"t":75,"v":1.05},{"k":243,"t":85,"v":1.07},{"k":243,"t":95,"v":1.09},{"k":243,"t":105,"v":1.11},{"k":243,"t":115,"v":1.13},{"k":243,"t":125,"v":1.14},{"k":243,"t":135,"v":1.16},{"k":243,"t":145,"v":1.17},{"k":243,"t":155,"v":1.18},{"k":243,"t":165,"v":1.19},{"k":243,"t":175,"v":1.21},{"k":243,"t":185,"v":1.22},{"k":243,"t":195,"v":1.23},{"k":243,"t":205,"v":1.23},{"k":243,"t":215,"v":1.24},{"k":243,"t":225,"v":1.25},{"k":243,"t":235,"v":1.26},{"k":243,"t":245,"v":1.28},{"k":243,"t":255,"v":1.28},{"k":243,"t":265,"v":1.29},{"k":243,"t":275,"v":1.3},{"k":243,"t":285,"v":1.32},{"k":243,"t":295,"v":1.33},{"k":243,"t":305,"v":1.33},{"k":243,"t":315,"v":1.33},{"k":243,"t":325,"v":1.34},{"k":243,"t":335,"v":1.34},{"k":243,"t":345,"v":1.35},{"k":243,"t":355,"v":1.35},{"k":243,"t":365,"v":1.37},{"k":243,"t":375,"v":1.38},{"k":243,"t":385,"v":1.38},{"k":243,"t":395,"v":1.38},{"k":243,"t":405,"v":1.39},{"k":243,"t":415,"v":1.4},{"k":243,"t":425,"v":1.43},{"k":243,"t":435,"v":1.47},{"k":243,"t":445,"v":1.48},{"k":243,"t":455,"v":1.5},{"k":243,"t":465,"v":1.56},{"k":243,"t":475,"v":1.62},{"k":243,"t":485,"v":1.58},{"k":243,"t":495,"v":1.65},
{"k":233,"t":5,"v":0.79},{"k":233,"t":15,"v":0.85},{"k":233,"t":25,"v":0.87},{"k":233,"t":35,"v":0.9},{"k":233,"t":45,"v":0.93},{"k":233,"t":55,"v":0.94},{"k":233,"t":65,"v":0.95},{"k":233,"t":75,"v":0.97},{"k":233,"t":85,"v":0.98},{"k":233,"t":95,"v":0.99},{"k":233,"t":105,"v":1.0},{"k":233,"t":115,"v":1.0},{"k":233,"t":125,"v":1.01},{"k":233,"t":135,"v":1.01},{"k":233,"t":145,"v":1.02},{"k":233,"t":155,"v":1.02},{"k":233,"t":165,"v":1.03},{"k":233,"t":175,"v":1.03},{"k":233,"t":185,"v":1.03},{"k":233,"t":195,"v":1.03},{"k":233,"t":205,"v":1.04},{"k":233,"t":215,"v":1.04},{"k":233,"t":225,"v":1.05},{"k":233,"t":235,"v":1.06},{"k":233,"t":245,"v":1.07},{"k":233,"t":255,"v":1.07},{"k":233,"t":265,"v":1.08},{"k":233,"t":275,"v":1.08},{"k":233,"t":285,"v":1.08},{"k":233,"t":295,"v":1.08},{"k":233,"t":305,"v":1.09},{"k":233,"t":315,"v":1.09},{"k":233,"t":325,"v":1.1},{"k":233,"t":335,"v":1.11},{"k":233,"t":345,"v":1.11},{"k":233,"t":355,"v":1.11},{"k":233,"t":365,"v":1.12},{"k":233,"t":375,"v":1.12},{"k":233,"t":385,"v":1.12},{"k":233,"t":395,"v":1.12},{"k":233,"t":405,"v":1.13},{"k":233,"t":415,"v":1.13},{"k":233,"t":425,"v":1.15},{"k":233,"t":435,"v":1.24},{"k":233,"t":445,"v":1.16},{"k":233,"t":455,"v":1.17},{"k":233,"t":465,"v":1.17},{"k":233,"t":475,"v":1.18},{"k":233,"t":485,"v":1.2},{"k":233,"t":495,"v":1.29}
],
"p3":[
{"k":323,"t":5,"v":1.12},{"k":323,"t":15,"v":1.34},{"k":323,"t":25,"v":1.48},{"k":323,"t":35,"v":1.6},{"k":323,"t":45,"v":1.73},{"k":323,"t":55,"v":1.83},{"k":323,"t":65,"v":1.93},{"k":323,"t":75,"v":2.0},{"k":323,"t":85,"v":2.08},{"k":323,"t":95,"v":2.17},{"k":323,"t":105,"v":2.23},{"k":323,"t":115,"v":2.28},{"k":323,"t":125,"v":2.36},{"k":323,"t":135,"v":2.42},{"k":323,"t":145,"v":2.48},{"k":323,"t":155,"v":2.56},{"k":323,"t":165,"v":2.6},{"k":323,"t":175,"v":2.65},{"k":323,"t":185,"v":2.71},{"k":323,"t":195,"v":2.75},{"k":323,"t":205,"v":2.81},{"k":323,"t":215,"v":2.85},{"k":323,"t":225,"v":2.89},{"k":323,"t":235,"v":2.93},{"k":323,"t":245,"v":2.96},{"k":323,"t":255,"v":3.0},{"k":323,"t":265,"v":3.04},{"k":323,"t":275,"v":3.07},{"k":323,"t":285,"v":3.11},{"k":323,"t":295,"v":3.14},{"k":323,"t":305,"v":3.17},{"k":323,"t":315,"v":3.21},{"k":323,"t":325,"v":3.24},{"k":323,"t":335,"v":3.27},{"k":323,"t":345,"v":3.31},{"k":323,"t":355,"v":3.34},{"k":323,"t":365,"v":3.37},{"k":323,"t":375,"v":3.41},{"k":323,"t":385,"v":3.45},{"k":323,"t":395,"v":3.49},{"k":323,"t":405,"v":3.53},{"k":323,"t":415,"v":3.57},{"k":323,"t":425,"v":3.61},{"k":323,"t":435,"v":3.66},{"k":323,"t":445,"v":3.71},{"k":323,"t":455,"v":3.78},{"k":323,"t":465,"v":3.82},{"k":323,"t":475,"v":3.86},{"k":323,"t":485,"v":3.95},{"k":323,"t":495,"v":4.0},
{"k":313,"t":5,"v":1.07},{"k":313,"t":15,"v":1.29},{"k":313,"t":25,"v":1.43},{"k":313,"t":35,"v":1.53},{"k":313,"t":45,"v":1.62},{"k":313,"t":55,"v":1.69},{"k":313,"t":65,"v":1.74},{"k":313,"t":75,"v":1.82},{"k":313,"t":85,"v":1.9},{"k":313,"t":95,"v":1.95},{"k":313,"t":105,"v":2.01},{"k":313,"t":115,"v":2.09},{"k":313,"t":125,"v":2.13},{"k":313,"t":135,"v":2.16},{"k":313,"t":145,"v":2.18},{"k":313,"t":155,"v":2.21},{"k":313,"t":165,"v":2.26},{"k":313,"t":175,"v":2.3},{"k":313,"t":185,"v":2.36},{"k":313,"t":195,"v":2.38},{"k":313,"t":205,"v":2.42},{"k":313,"t":215,"v":2.46},{"k":313,"t":225,"v":2.48},{"k":313,"t":235,"v":2.52},{"k":313,"t":245,"v":2.56},{"k":313,"t":255,"v":2.61},{"k":313,"t":265,"v":2.66},{"k":313,"t":275,"v":2.68},{"k":313,"t":285,"v":2.75},{"k":313,"t":295,"v":2.8},{"k":313,"t":305,"v":2.83},{"k":313,"t":315,"v":2.9},{"k":313,"t":325,"v":2.96},{"k":313,"t":335,"v":3.02},{"k":313,"t":345,"v":3.14},{"k":313,"t":355,"v":3.2},{"k":313,"t":365,"v":3.26},{"k":313,"t":375,"v":3.33},{"k":313,"t":385,"v":3.4},{"k":313,"t":395,"v":3.44},{"k":313,"t":405,"v":3.51},{"k":313,"t":415,"v":3.57},{"k":313,"t":425,"v":3.57},{"k":313,"t":435,"v":3.58},{"k":313,"t":445,"v":3.69},{"k":313,"t":455,"v":3.9},{"k":313,"t":465,"v":4.06},{"k":313,"t":475,"v":4.19},{"k":313,"t":485,"v":4.32},{"k":313,"t":495,"v":4.14},
{"k":303,"t":5,"v":0.97},{"k":303,"t":15,"v":1.13},{"k":303,"t":25,"v":1.23},{"k":303,"t":35,"v":1.31},{"k":303,"t":45,"v":1.37},{"k":303,"t":55,"v":1.41},{"k":303,"t":65,"v":1.44},{"k":303,"t":75,"v":1.48},{"k":303,"t":85,"v":1.52},{"k":303,"t":95,"v":1.53},{"k":303,"t":105,"v":1.57},{"k":303,"t":115,"v":1.6},{"k":303,"t":125,"v":1.63},{"k":303,"t":135,"v":1.68},{"k":303,"t":145,"v":1.7},{"k":303,"t":155,"v":1.71},{"k":303,"t":165,"v":1.72},{"k":303,"t":175,"v":1.72},{"k":303,"t":185,"v":1.74},{"k":303,"t":195,"v":1.77},{"k":303,"t":205,"v":1.79},{"k":303,"t":215,"v":1.81},{"k":303,"t":225,"v":1.83},{"k":303,"t":235,"v":1.84},{"k":303,"t":245,"v":1.86},{"k":303,"t":255,"v":1.88},{"k":303,"t":265,"v":1.9},{"k":303,"t":275,"v":1.92},{"k":303,"t":285,"v":1.93},{"k":303,"t":295,"v":1.94},{"k":303,"t":305,"v":1.95},{"k":303,"t":315,"v":1.96},{"k":303,"t":325,"v":1.98},{"k":303,"t":335,"v":2.0},{"k":303,"t":345,"v":2.01},{"k":303,"t":355,"v":2.03},{"k":303,"t":365,"v":2.04},{"k":303,"t":375,"v":2.06},{"k":303,"t":385,"v":2.1},{"k":303,"t":395,"v":2.15},{"k":303,"t":405,"v":2.18},{"k":303,"t":415,"v":2.17},{"k":303,"t":425,"v":2.22},{"k":303,"t":435,"v":2.28},{"k":303,"t":445,"v":2.3},{"k":303,"t":455,"v":2.34},{"k":303,"t":465,"v":2.41},{"k":303,"t":475,"v":2.45},{"k":303,"t":485,"v":2.43},{"k":303,"t":495,"v":2.34},
{"k":293,"t":5,"v":0.95},{"k":293,"t":15,"v":1.1},{"k":293,"t":25,"v":1.2},{"k":293,"t":35,"v":1.28},{"k":293,"t":45,"v":1.34},{"k":293,"t":55,"v":1.39},{"k":293,"t":65,"v":1.43},{"k":293,"t":75,"v":1.48},{"k":293,"t":85,"v":1.52},{"k":293,"t":95,"v":1.53},{"k":293,"t":105,"v":1.55},{"k":293,"t":115,"v":1.6},{"k":293,"t":125,"v":1.62},{"k":293,"t":135,"v":1.68},{"k":293,"t":145,"v":1.7},{"k":293,"t":155,"v":1.72},{"k":293,"t":165,"v":1.74},{"k":293,"t":175,"v":1.76},{"k":293,"t":185,"v":1.79},{"k":293,"t":195,"v":1.82},{"k":293,"t":205,"v":1.83},{"k":293,"t":215,"v":1.86},{"k":293,"t":225,"v":1.89},{"k":293,"t":235,"v":1.92},{"k":293,"t":245,"v":1.95},{"k":293,"t":255,"v":1.99},{"k":293,"t":265,"v":2.02},{"k":293,"t":275,"v":2.06},{"k":293,"t":285,"v":2.1},{"k":293,"t":295,"v":2.13},{"k":293,"t":305,"v":2.16},{"k":293,"t":315,"v":2.18},{"k":293,"t":325,"v":2.2},{"k":293,"t":335,"v":2.22},{"k":293,"t":345,"v":2.27},{"k":293,"t":355,"v":2.31},{"k":293,"t":365,"v":2.33},{"k":293,"t":375,"v":2.36},{"k":293,"t":385,"v":2.38},{"k":293,"t":395,"v":2.39},{"k":293,"t":405,"v":2.38},{"k":293,"t":415,"v":2.32},{"k":293,"t":425,"v":2.34},{"k":293,"t":435,"v":2.39},{"k":293,"t":445,"v":2.48},{"k":293,"t":455,"v":2.55},{"k":293,"t":465,"v":2.59},{"k":293,"t":475,"v":2.73},{"k":293,"t":485,"v":2.83},{"k":293,"t":495,"v":2.58},
{"k":283,"t":5,"v":0.9},{"k":283,"t":15,"v":1.05},{"k":283,"t":25,"v":1.14},{"k":283,"t":35,"v":1.21},{"k":283,"t":45,"v":1.26},{"k":283,"t":55,"v":1.3},{"k":283,"t":65,"v":1.33},{"k":283,"t":75,"v":1.37},{"k":283,"t":85,"v":1.41},{"k":283,"t":95,"v":1.44},{"k":283,"t":105,"v":1.47},{"k":283,"t":115,"v":1.5},{"k":283,"t":125,"v":1.53},{"k":283,"t":135,"v":1.57},{"k":283,"t":145,"v":1.6},{"k":283,"t":155,"v":1.62},{"k":283,"t":165,"v":1.65},{"k":283,"t":175,"v":1.68},{"k":283,"t":185,"v":1.7},{"k":283,"t":195,"v":1.72},{"k":283,"t":205,"v":1.74},{"k":283,"t":215,"v":1.76},{"k":283,"t":225,"v":1.78},{"k":283,"t":235,"v":1.8},{"k":283,"t":245,"v":1.82},{"k":283,"t":255,"v":1.84},{"k":283,"t":265,"v":1.85},{"k":283,"t":275,"v":1.87},{"k":283,"t":285,"v":1.89},{"k":283,"t":295,"v":1.9},{"k":283,"t":305,"v":1.92},{"k":283,"t":315,"v":1.94},{"k":283,"t":325,"v":1.95},{"k":283,"t":335,"v":1.97},{"k":283,"t":345,"v":1.98},{"k":283,"t":355,"v":1.99},{"k":283,"t":365,"v":2.01},{"k":283,"t":375,"v":2.02},{"k":283,"t":385,"v":2.03},{"k":283,"t":395,"v":2.0},{"k":283,"t":405,"v":1.96},{"k":283,"t":415,"v":1.93},{"k":283,"t":425,"v":1.92},{"k":283,"t":435,"v":1.94},{"k":283,"t":445,"v":1.97},{"k":283,"t":455,"v":2.0},{"k":283,"t":465,"v":2.05},{"k":283,"t":475,"v":2.1},{"k":283,"t":485,"v":2.03},{"k":283,"t":495,"v":2.2},
{"k":273,"t":5,"v":0.92},{"k":273,"t":15,"v":1.02},{"k":273,"t":25,"v":1.05},{"k":273,"t":35,"v":1.08},{"k":273,"t":45,"v":1.11},{"k":273,"t":55,"v":1.13},{"k":273,"t":65,"v":1.14},{"k":273,"t":75,"v":1.13},{"k":273,"t":85,"v":1.14},{"k":273,"t":95,"v":1.15},{"k":273,"t":105,"v":1.16},{"k":273,"t":115,"v":1.2},{"k":273,"t":125,"v":1.23},{"k":273,"t":135,"v":1.22},{"k":273,"t":145,"v":1.21},{"k":273,"t":155,"v":1.21},{"k":273,"t":165,"v":1.21},{"k":273,"t":175,"v":1.22},{"k":273,"t":185,"v":1.22},{"k":273,"t":195,"v":1.23},{"k":273,"t":205,"v":1.23},{"k":273,"t":215,"v":1.24},{"k":273,"t":225,"v":1.25},{"k":273,"t":235,"v":1.27},{"k":273,"t":245,"v":1.28},{"k":273,"t":255,"v":1.28},{"k":273,"t":265,"v":1.28},{"k":273,"t":275,"v":1.27},{"k":273,"t":285,"v":1.27},{"k":273,"t":295,"v":1.28},{"k":273,"t":305,"v":1.29},{"k":273,"t":315,"v":1.3},{"k":273,"t":325,"v":1.31},{"k":273,"t":335,"v":1.3},{"k":273,"t":345,"v":1.27},{"k":273,"t":355,"v":1.28},{"k":273,"t":365,"v":1.29},{"k":273,"t":375,"v":1.3},{"k":273,"t":385,"v":1.32},{"k":273,"t":395,"v":1.33},{"k":273,"t":405,"v":1.35},{"k":273,"t":415,"v":1.37},{"k":273,"t":425,"v":1.38},{"k":273,"t":435,"v":1.39},{"k":273,"t":445,"v":1.4},{"k":273,"t":455,"v":1.41},{"k":273,"t":465,"v":1.46},{"k":273,"t":475,"v":1.45},{"k":273,"t":485,"v":1.43},{"k":273,"t":495,"v":1.3},
{"k":263,"t":5,"v":0.8},{"k":263,"t":15,"v":0.84},{"k":263,"t":25,"v":0.86},{"k":263,"t":35,"v":0.88},{"k":263,"t":45,"v":0.89},{"k":263,"t":55,"v":0.9},{"k":263,"t":65,"v":0.92},{"k":263,"t":75,"v":0.93},{"k":263,"t":85,"v":0.95},{"k":263,"t":95,"v":0.96},{"k":263,"t":105,"v":0.97},{"k":263,"t":115,"v":0.99},{"k":263,"t":125,"v":1.0},{"k":263,"t":135,"v":1.01},{"k":263,"t":145,"v":1.02},{"k":263,"t":155,"v":1.02},{"k":263,"t":165,"v":1.03},{"k":263,"t":175,"v":1.03},{"k":263,"t":185,"v":1.03},{"k":263,"t":195,"v":1.03},{"k":263,"t":205,"v":1.03},{"k":263,"t":215,"v":1.04},{"k":263,"t":225,"v":1.04},{"k":263,"t":235,"v":1.03},{"k":263,"t":245,"v":1.03},{"k":263,"t":255,"v":1.04},{"k":263,"t":265,"v":1.05},{"k":263,"t":275,"v":1.06},{"k":263,"t":285,"v":1.07},{"k":263,"t":295,"v":1.08},{"k":263,"t":305,"v":1.09},{"k":263,"t":315,"v":1.1},{"k":263,"t":325,"v":1.11},{"k":263,"t":335,"v":1.11},{"k":263,"t":345,"v":1.12},{"k":263,"t":355,"v":1.11},{"k":263,"t":365,"v":1.1},{"k":263,"t":375,"v":1.1},{"k":263,"t":385,"v":1.11},{"k":263,"t":395,"v":1.13},{"k":263,"t":405,"v":1.12},{"k":263,"t":415,"v":1.08},{"k":263,"t":425,"v":1.1},{"k":263,"t":435,"v":1.11},{"k":263,"t":445,"v":1.12},{"k":263,"t":455,"v":1.12},{"k":263,"t":465,"v":1.14},{"k":263,"t":475,"v":1.17},{"k":263,"t":485,"v":1.17},{"k":263,"t":495,"v":1.17},
{"k":253,"t":5,"v":0.77},{"k":253,"t":15,"v":0.81},{"k":253,"t":25,"v":0.85},{"k":253,"t":35,"v":0.88},{"k":253,"t":45,"v":0.9},{"k":253,"t":55,"v":0.92},{"k":253,"t":65,"v":0.94},{"k":253,"t":75,"v":0.96},{"k":253,"t":85,"v":0.97},{"k":253,"t":95,"v":0.98},{"k":253,"t":105,"v":0.99},{"k":253,"t":115,"v":1.0},{"k":253,"t":125,"v":1.0},{"k":253,"t":135,"v":1.01},{"k":253,"t":145,"v":1.01},{"k":253,"t":155,"v":1.01},{"k":253,"t":165,"v":1.02},{"k":253,"t":175,"v":1.02},{"k":253,"t":185,"v":1.03},{"k":253,"t":195,"v":1.03},{"k":253,"t":205,"v":1.02},{"k":253,"t":215,"v":1.02},{"k":253,"t":225,"v":1.02},{"k":253,"t":235,"v":1.02},{"k":253,"t":245,"v":1.02},{"k":253,"t":255,"v":1.02},{"k":253,"t":265,"v":1.02},{"k":253,"t":275,"v":1.02},{"k":253,"t":285,"v":1.03},{"k":253,"t":295,"v":1.03},{"k":253,"t":305,"v":1.04},{"k":253,"t":315,"v":1.04},{"k":253,"t":325,"v":1.03},{"k":253,"t":335,"v":1.03},{"k":253,"t":345,"v":1.02},{"k":253,"t":355,"v":1.03},{"k":253,"t":365,"v":1.03},{"k":253,"t":375,"v":1.04},{"k":253,"t":385,"v":1.04},{"k":253,"t":395,"v":1.07},{"k":253,"t":405,"v":1.08},{"k":253,"t":415,"v":1.08},{"k":253,"t":425,"v":1.09},{"k":253,"t":435,"v":1.1},{"k":253,"t":445,"v":1.13},{"k":253,"t":455,"v":1.16},{"k":253,"t":465,"v":1.13},{"k":253,"t":475,"v":1.22},{"k":253,"t":485,"v":1.15},{"k":253,"t":495,"v":1.23},
{"k":243,"t":5,"v":0.78},{"k":243,"t":15,"v":0.81},{"k":243,"t":25,"v":0.83},{"k":243,"t":35,"v":0.85},{"k":243,"t":45,"v":0.86},{"k":243,"t":55,"v":0.87},{"k":243,"t":65,"v":0.88},{"k":243,"t":75,"v":0.88},{"k":243,"t":85,"v":0.89},{"k":243,"t":95,"v":0.91},{"k":243,"t":105,"v":0.93},{"k":243,"t":115,"v":0.95},{"k":243,"t":125,"v":0.97},{"k":243,"t":135,"v":0.99},{"k":243,"t":145,"v":1.0},{"k":243,"t":155,"v":1.0},{"k":243,"t":165,"v":1.01},{"k":243,"t":175,"v":1.02},{"k":243,"t":185,"v":1.02},{"k":243,"t":195,"v":1.03},{"k":243,"t":205,"v":1.04},{"k":243,"t":215,"v":1.05},{"k":243,"t":225,"v":1.05},{"k":243,"t":235,"v":1.04},{"k":243,"t":245,"v":1.05},{"k":243,"t":255,"v":1.06},{"k":243,"t":265,"v":1.07},{"k":243,"t":275,"v":1.08},{"k":243,"t":285,"v":1.09},{"k":243,"t":295,"v":1.1},{"k":243,"t":305,"v":1.12},{"k":243,"t":315,"v":1.13},{"k":243,"t":325,"v":1.14},{"k":243,"t":335,"v":1.17},{"k":243,"t":345,"v":1.18},{"k":243,"t":355,"v":1.21},{"k":243,"t":365,"v":1.22},{"k":243,"t":375,"v":1.22},{"k":243,"t":385,"v":1.23},{"k":243,"t":395,"v":1.27},{"k":243,"t":405,"v":1.3},{"k":243,"t":415,"v":1.32},{"k":243,"t":425,"v":1.33},{"k":243,"t":435,"v":1.34},{"k":243,"t":445,"v":1.37},{"k":243,"t":455,"v":1.38},{"k":243,"t":465,"v":1.39},{"k":243,"t":475,"v":1.4},{"k":243,"t":485,"v":1.32},{"k":243,"t":495,"v":1.29},
{"k":233,"t":5,"v":0.66},{"k":233,"t":15,"v":0.73},{"k":233,"t":25,"v":0.75},{"k":233,"t":35,"v":0.77},{"k":233,"t":45,"v":0.78},{"k":233,"t":55,"v":0.79},{"k":233,"t":65,"v":0.81},{"k":233,"t":75,"v":0.82},{"k":233,"t":85,"v":0.83},{"k":233,"t":95,"v":0.85},{"k":233,"t":105,"v":0.85},{"k":233,"t":115,"v":0.85},{"k":233,"t":125,"v":0.84},{"k":233,"t":135,"v":0.83},{"k":233,"t":145,"v":0.84},{"k":233,"t":155,"v":0.85},{"k":233,"t":165,"v":0.85},{"k":233,"t":175,"v":0.86},{"k":233,"t":185,"v":0.88},{"k":233,"t":195,"v":0.9},{"k":233,"t":205,"v":0.91},{"k":233,"t":215,"v":0.92},{"k":233,"t":225,"v":0.92},{"k":233,"t":235,"v":0.92},{"k":233,"t":245,"v":0.91},{"k":233,"t":255,"v":0.9},{"k":233,"t":265,"v":0.89},{"k":233,"t":275,"v":0.88},{"k":233,"t":285,"v":0.88},{"k":233,"t":295,"v":0.87},{"k":233,"t":305,"v":0.87},{"k":233,"t":315,"v":0.87},{"k":233,"t":325,"v":0.88},{"k":233,"t":335,"v":0.89},{"k":233,"t":345,"v":0.9},{"k":233,"t":355,"v":0.89},{"k":233,"t":365,"v":0.88},{"k":233,"t":375,"v":0.87},{"k":233,"t":385,"v":0.88},{"k":233,"t":395,"v":0.87},{"k":233,"t":405,"v":0.84},{"k":233,"t":415,"v":0.84},{"k":233,"t":425,"v":0.86},{"k":233,"t":435,"v":0.84},{"k":233,"t":445,"v":0.82},{"k":233,"t":455,"v":0.8},{"k":233,"t":465,"v":0.86},{"k":233,"t":475,"v":0.89},{"k":233,"t":485,"v":0.92},{"k":233,"t":495,"v":0.99}
]
},
"vconcat":[
{"vconcat":[
{
"width":540,"height":435,
"title":{"text":"EPDM/Bu-NENA","orient":"bottom","offset":18},
"encoding":{
"x":{"field":"t","type":"quantitative","scale":{"domain":[0,500],"nice":false},"axis":{"values":[0,50,100,150,200,250,300,350,400,450,500],"labelExpr":"datum.value % 100 === 0 ? datum.label : ''","title":"t/10⁻¹²s","tickSize":{"condition":{"test":"datum.value % 100 !== 0","value":4},"value":7},"labelPadding":7,"titlePadding":0}},
"y":{"field":"v","type":"quantitative","scale":{"domain":[0.8,6],"nice":false,"zero":false},"axis":{"values":[1,1.5,2,2.5,3,3.5,4,4.5,5,5.5,6],"labelExpr":"datum.value % 1 === 0 ? format(datum.value,'d') : ''","title":"MSD/10⁻²⁰m²\u00a0\u00a0\u00a0\u00a0\u00a0\u00a0\u00a0\u00a0\u00a0","tickSize":{"condition":{"test":"datum.value % 1 !== 0","value":4},"value":7},"labelPadding":4,"titlePadding":5}}
},
"layer":[
{"data":{"name":"f"},"transform":[{"filter":"datum.p === 1"}],"mark":{"type":"line","color":"black","strokeWidth":1},"encoding":{"detail":{"field":"k","type":"nominal"}}},
{"data":{"name":"p1"},"mark":{"type":"point","filled":true,"opacity":1,"size":32},
"encoding":{
"shape":{"field":"k","type":"nominal","scale":{"domain":[323,313,303,293,283,273,263,253,243,233],"range":["square","circle","triangle-up","triangle-down","triangle-left","triangle-right","diamond","M-1,0L-0.5,-0.87L0.5,-0.87L1,0L0.5,0.87L-0.5,0.87Z","circle","M0,-1L0.235,-0.324L0.951,-0.309L0.38,0.124L0.588,0.809L0,0.4L-0.588,0.809L-0.38,0.124L-0.951,-0.309L-0.235,-0.324Z"]},"legend":{"orient":"none","legendX":15,"legendY":2,"title":null,"labelExpr":"datum.label + ' K'","labelFont":"Liberation Serif","labelFontSize":20,"labelColor":"black","symbolSize":20,"rowPadding":5.5,"labelOffset":19,"padding":0}},
"color":{"field":"k","type":"nominal","scale":{"domain":[323,313,303,293,283,273,263,253,243,233],"range":["#000000","#ff0000","#0000ff","#008080","#ff00ff","#808000","#000080","#800000","#ff3b3b","#008000"]},"legend":{"orient":"none","legendX":15,"legendY":2,"title":null,"labelExpr":"datum.label + ' K'","labelFont":"Liberation Serif","labelFontSize":20,"labelColor":"black","symbolSize":20,"rowPadding":5.5,"labelOffset":19,"padding":0}}
}}
]
},
{
"width":543,"height":435,
"title":{"text":"EPDM/BTTN","orient":"bottom","offset":19},
"encoding":{
"x":{"field":"t","type":"quantitative","scale":{"domain":[0,500],"nice":false},"axis":{"values":[0,50,100,150,200,250,300,350,400,450,500],"labelExpr":"datum.value % 100 === 0 ? datum.label : ''","title":"t/10⁻¹²s","tickSize":{"condition":{"test":"datum.value % 100 !== 0","value":4},"value":7},"labelPadding":7,"titlePadding":0}},
"y":{"field":"v","type":"quantitative","scale":{"domain":[0.6,7],"nice":false,"zero":false},"axis":{"values":[1,1.5,2,2.5,3,3.5,4,4.5,5,5.5,6,6.5,7],"labelExpr":"datum.value % 1 === 0 ? format(datum.value,'d') : ''","title":"MSD/10⁻²⁰m²\u00a0\u00a0\u00a0\u00a0\u00a0\u00a0\u00a0\u00a0\u00a0","tickSize":{"condition":{"test":"datum.value % 1 !== 0","value":4},"value":7},"labelPadding":4,"titlePadding":5}}
},
"layer":[
{"data":{"name":"f"},"transform":[{"filter":"datum.p === 2"}],"mark":{"type":"line","color":"black","strokeWidth":1},"encoding":{"detail":{"field":"k","type":"nominal"}}},
{"data":{"name":"p2"},"mark":{"type":"point","filled":true,"opacity":1,"size":32},
"encoding":{
"shape":{"field":"k","type":"nominal","scale":{"domain":[323,313,303,293,283,273,263,253,243,233],"range":["square","circle","triangle-up","triangle-down","triangle-left","triangle-right","diamond","M-1,0L-0.5,-0.87L0.5,-0.87L1,0L0.5,0.87L-0.5,0.87Z","circle","M0,-1L0.235,-0.324L0.951,-0.309L0.38,0.124L0.588,0.809L0,0.4L-0.588,0.809L-0.38,0.124L-0.951,-0.309L-0.235,-0.324Z"]},"legend":{"orient":"none","legendX":15,"legendY":3,"title":null,"labelExpr":"datum.label + ' K'","labelFont":"Liberation Serif","labelFontSize":20,"labelColor":"black","symbolSize":20,"rowPadding":5.4,"labelOffset":19,"padding":0}},
"color":{"field":"k","type":"nominal","scale":{"domain":[323,313,303,293,283,273,263,253,243,233],"range":["#000000","#ff0000","#0000ff","#008080","#ff00ff","#808000","#000080","#800000","#ff3b3b","#008000"]},"legend":{"orient":"none","legendX":15,"legendY":3,"title":null,"labelExpr":"datum.label + ' K'","labelFont":"Liberation Serif","labelFontSize":20,"labelColor":"black","symbolSize":20,"rowPadding":5.4,"labelOffset":19,"padding":0}}
}}
]
}
],"spacing":22,"resolve":{"scale":{"shape":"independent","color":"independent"}}},
{
"width":543,"height":450,
"title":{"text":"EPDM/TMETN","orient":"bottom","offset":7},
"encoding":{
"x":{"field":"t","type":"quantitative","scale":{"domain":[0,500],"nice":false},"axis":{"values":[0,50,100,150,200,250,300,350,400,450,500],"labelExpr":"datum.value % 100 === 0 ? datum.label : ''","title":"t/10⁻¹²s","tickSize":{"condition":{"test":"datum.value % 100 !== 0","value":4},"value":7},"labelPadding":7,"titlePadding":0}},
"y":{"field":"v","type":"quantitative","scale":{"domain":[0.5,5],"nice":false,"zero":false},"axis":{"values":[1,1.5,2,2.5,3,3.5,4,4.5,5],"labelExpr":"datum.value % 1 === 0 ? format(datum.value,'d') : ''","title":"MSD/10⁻²⁰m²\u00a0\u00a0\u00a0\u00a0\u00a0\u00a0\u00a0\u00a0\u00a0","tickSize":{"condition":{"test":"datum.value % 1 !== 0","value":4},"value":7},"labelPadding":4,"titlePadding":5}}
},
"layer":[
{"data":{"name":"f"},"transform":[{"filter":"datum.p === 3"}],"mark":{"type":"line","color":"black","strokeWidth":1},"encoding":{"detail":{"field":"k","type":"nominal"}}},
{"data":{"name":"p3"},"mark":{"type":"point","filled":true,"opacity":1,"size":32},
"encoding":{
"shape":{"field":"k","type":"nominal","scale":{"domain":[323,313,303,293,283,273,263,253,243,233],"range":["square","circle","triangle-up","triangle-down","triangle-left","triangle-right","diamond","M-1,0L-0.5,-0.87L0.5,-0.87L1,0L0.5,0.87L-0.5,0.87Z","circle","M0,-1L0.235,-0.324L0.951,-0.309L0.38,0.124L0.588,0.809L0,0.4L-0.588,0.809L-0.38,0.124L-0.951,-0.309L-0.235,-0.324Z"]},"legend":{"orient":"none","legendX":15,"legendY":3.5,"title":null,"labelExpr":"datum.label + ' K'","labelFont":"Liberation Serif","labelFontSize":20,"labelColor":"black","symbolSize":20,"rowPadding":6.2,"labelOffset":19,"padding":0}},
"color":{"field":"k","type":"nominal","scale":{"domain":[323,313,303,293,283,273,263,253,243,233],"range":["#000000","#ff0000","#0000ff","#008080","#ff00ff","#808000","#000080","#800000","#ff3b3b","#008000"]},"legend":{"orient":"none","legendX":15,"legendY":3.5,"title":null,"labelExpr":"datum.label + ' K'","labelFont":"Liberation Serif","labelFontSize":20,"labelColor":"black","symbolSize":20,"rowPadding":6.2,"labelOffset":19,"padding":0}}
}}
]
}
],
"spacing":13,
"resolve":{"scale":{"shape":"independent","color":"independent"}}
}
